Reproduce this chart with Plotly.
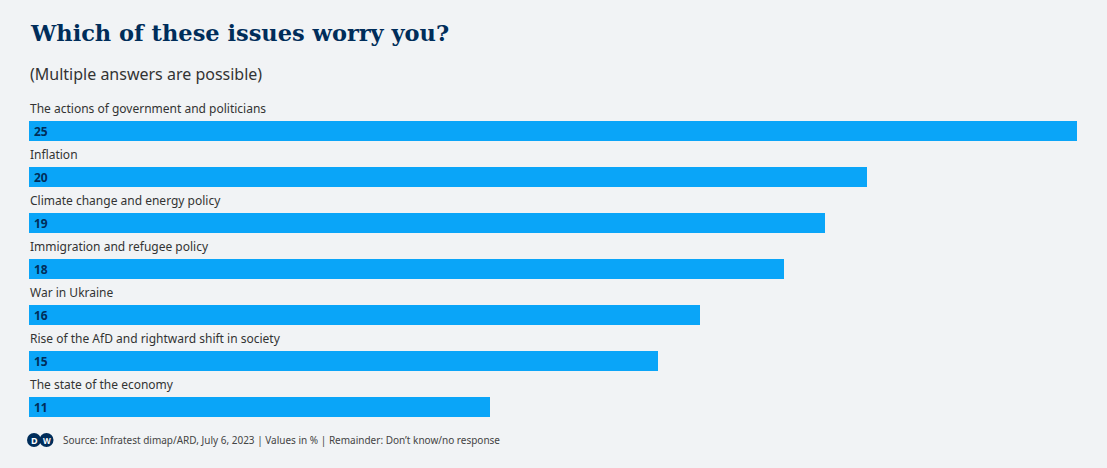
import plotly.graph_objects as go

categories = [
    "The actions of government and politicians",
    "Inflation",
    "Climate change and energy policy",
    "Immigration and refugee policy",
    "War in Ukraine",
    "Rise of the AfD and rightward shift in society",
    "The state of the economy",
]
values = [25, 20, 19, 18, 16, 15, 11]

title = "Which of these issues worry you?"
subtitle = "(Multiple answers are possible)"
source = "Source: Infratest dimap/ARD, July 6, 2023 | Values in % | Remainder: Don’t know/no response"

BG = "#f1f3f5"
BAR = "#0aa5f8"
NAVY = "#002d5a"
TEXT = "#333333"

W, H = 1107, 468
L, R, T, B = 29, 30, 108, 38
plot_h = H - T - B


def py(p):
    return (H - B - p) / plot_h


def px(p):
    return (p - L) / (W - L - R)


ypos = list(range(len(categories)))

fig = go.Figure()
fig.add_trace(go.Bar(
    x=values,
    y=ypos,
    orientation="h",
    width=20 / 46,
    marker=dict(color=BAR, line=dict(width=0)),
    hoverinfo="skip",
    cliponaxis=False,
))

annotations = []
for i, c in enumerate(categories):
    annotations.append(dict(
        x=0, y=i - 0.5, xref="x", yref="y", text=c, showarrow=False,
        xanchor="left", yanchor="middle", xshift=-1,
        font=dict(family="Noto Sans", size=12, color=TEXT),
    ))
for i, v in enumerate(values):
    annotations.append(dict(
        x=0, y=i, xref="x", yref="y", text=f"<b>{v}</b>", showarrow=False,
        xanchor="left", yanchor="middle", xshift=3,
        font=dict(family="Noto Sans", size=12, color=NAVY),
    ))

annotations.append(dict(
    x=px(28), y=py(33), xref="paper", yref="paper", text=f"<b>{title}</b>",
    showarrow=False, xanchor="left", yanchor="middle",
    font=dict(family="DejaVu Serif", size=22.5, color=NAVY),
))
annotations.append(dict(
    x=px(28), y=py(74), xref="paper", yref="paper", text=subtitle,
    showarrow=False, xanchor="left", yanchor="middle",
    font=dict(family="Noto Sans", size=16, color=TEXT),
))
annotations.append(dict(
    x=px(61), y=py(440), xref="paper", yref="paper", text=source,
    showarrow=False, xanchor="left", yanchor="middle",
    font=dict(family="Noto Sans", size=10, color="#444444"),
))
# DW logo letters
annotations.append(dict(
    x=px(34), y=py(440), xref="paper", yref="paper", text="<b>D</b>",
    showarrow=False, xanchor="center", yanchor="middle",
    font=dict(family="Noto Sans", size=9, color="white"),
))
annotations.append(dict(
    x=px(46.5), y=py(440), xref="paper", yref="paper", text="<b>W</b>",
    showarrow=False, xanchor="center", yanchor="middle",
    font=dict(family="Noto Sans", size=8, color="white"),
))

shapes = [
    dict(type="circle", xref="paper", yref="paper",
         x0=px(27), x1=px(41), y0=py(447), y1=py(433),
         fillcolor=NAVY, line=dict(width=0), layer="below"),
    dict(type="circle", xref="paper", yref="paper",
         x0=px(39.5), x1=px(53.5), y0=py(447), y1=py(433),
         fillcolor=NAVY, line=dict(width=0), layer="below"),
]

fig.update_layout(
    width=W, height=H,
    margin=dict(l=L, r=R, t=T, b=B, pad=0),
    paper_bgcolor=BG, plot_bgcolor=BG,
    showlegend=False,
    bargap=0,
    xaxis=dict(range=[0, 25], visible=False, fixedrange=True),
    yaxis=dict(range=[len(categories) - 0.5, -0.5], visible=False, fixedrange=True),
    annotations=annotations,
    shapes=shapes,
    hovermode=False,
)

fig.write_html(
    "out.html",
    config={"displayModeBar": False},
    post_script="document.body.style.margin='0';document.body.style.overflow='hidden';",
)
